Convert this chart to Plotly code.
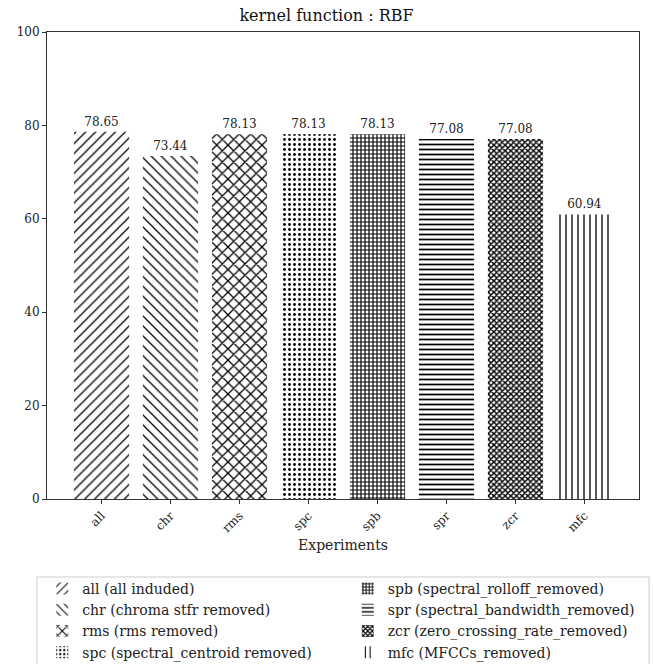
import plotly.graph_objects as go

# Accuracy (%) per experiment for the RBF-kernel SVM
experiments = ["all", "chr", "rms", "spc", "spb", "spr", "zcr", "mfc"]
accuracy = [78.65, 73.44, 78.13, 78.13, 78.13, 77.08, 77.08, 60.94]
legend_names = [
    "all (all induded)",
    "chr (chroma stfr removed)",
    "rms (rms removed)",
    "spc (spectral_centroid removed)",
    "spb (spectral_rolloff_removed)",
    "spr (spectral_bandwidth_removed)",
    "zcr (zero_crossing_rate_removed)",
    "mfc (MFCCs_removed)",
]
y_ticks = [0, 20, 40, 60, 80, 100]

# hatch style per experiment: (shape, size, solidity)
hatches = [
    ("/", 7, 0.18),
    ("\\", 7, 0.18),
    ("x", 8, 0.3),
    (".", 5, 0.25),
    ("+", 4, 0.5),
    ("-", 5, 0.35),
    ("x", 4, 0.6),
    ("|", 6, 0.22),
]

SERIF = "DejaVu Serif"
fig = go.Figure()

for i, (cat, val, name, (shape, size, sol)) in enumerate(
        zip(experiments, accuracy, legend_names, hatches)):
    fig.add_trace(go.Bar(
        x=[i], y=[val], name=name,
        width=0.8,
        marker=dict(
            color="white",
            line=dict(width=0),
            pattern=dict(shape=shape, size=size, solidity=sol,
                         fgcolor="black", bgcolor="white", fillmode="replace"),
        ),
        text=[f"{val:.2f}"], textposition="outside",
        textfont=dict(family=SERIF, size=12, color="#222"),
        cliponaxis=False,
        legend="legend" if i < 4 else "legend2",
    ))

# plot area spans 47..639 px horizontally and 32..499 px vertically
PLOT_H = 664 - 32 - 165
legend_top = (499 - 577) / PLOT_H
legend_items_top = legend_top + 4 / PLOT_H

fig.update_layout(
    width=653, height=664,
    margin=dict(l=47, r=14, t=32, b=165, autoexpand=False),
    paper_bgcolor="white", plot_bgcolor="white",
    showlegend=True,
    title=dict(text="kernel function : RBF", x=0.5, xanchor="center",
               y=1 - 15 / 664, yanchor="middle",
               font=dict(family=SERIF, size=16, color="#111")),
    font=dict(family=SERIF, color="#222"),
    xaxis=dict(
        range=[-0.79, 7.79], tickmode="array",
        tickvals=list(range(len(experiments))), ticktext=experiments,
        tickangle=-45, ticks="outside", ticklen=4, tickcolor="#333",
        showline=True, linecolor="#333", linewidth=1, mirror=True,
        showgrid=False, zeroline=False,
        tickfont=dict(family=SERIF, size=12),
        title=dict(text="Experiments", font=dict(family=SERIF, size=14), standoff=5),
    ),
    yaxis=dict(
        range=[0, 100], tickmode="array", tickvals=y_ticks,
        ticks="outside", ticklen=4, tickcolor="#333",
        showline=True, linecolor="#333", linewidth=1, mirror=True,
        showgrid=False, zeroline=False,
        tickfont=dict(family=SERIF, size=12),
    ),
    legend=dict(
        x=-0.008, y=legend_items_top, xanchor="left", yanchor="top",
        orientation="v", bgcolor="rgba(0,0,0,0)", borderwidth=0,
        font=dict(family=SERIF, size=14, color="#222"),
        itemsizing="constant", tracegroupgap=0,
    ),
    legend2=dict(
        x=0.508, y=legend_items_top, xanchor="left", yanchor="top",
        orientation="v", bgcolor="rgba(0,0,0,0)", borderwidth=0,
        font=dict(family=SERIF, size=14, color="#222"),
        itemsizing="constant", tracegroupgap=0,
    ),
    shapes=[dict(
        type="rect", xref="paper", yref="paper",
        x0=-0.017, x1=1.017, y0=legend_top - 0.2, y1=legend_top,
        line=dict(color="#cccccc", width=1), fillcolor="rgba(0,0,0,0)",
        layer="below",
    )],
)

fig.write_html("out.html")
